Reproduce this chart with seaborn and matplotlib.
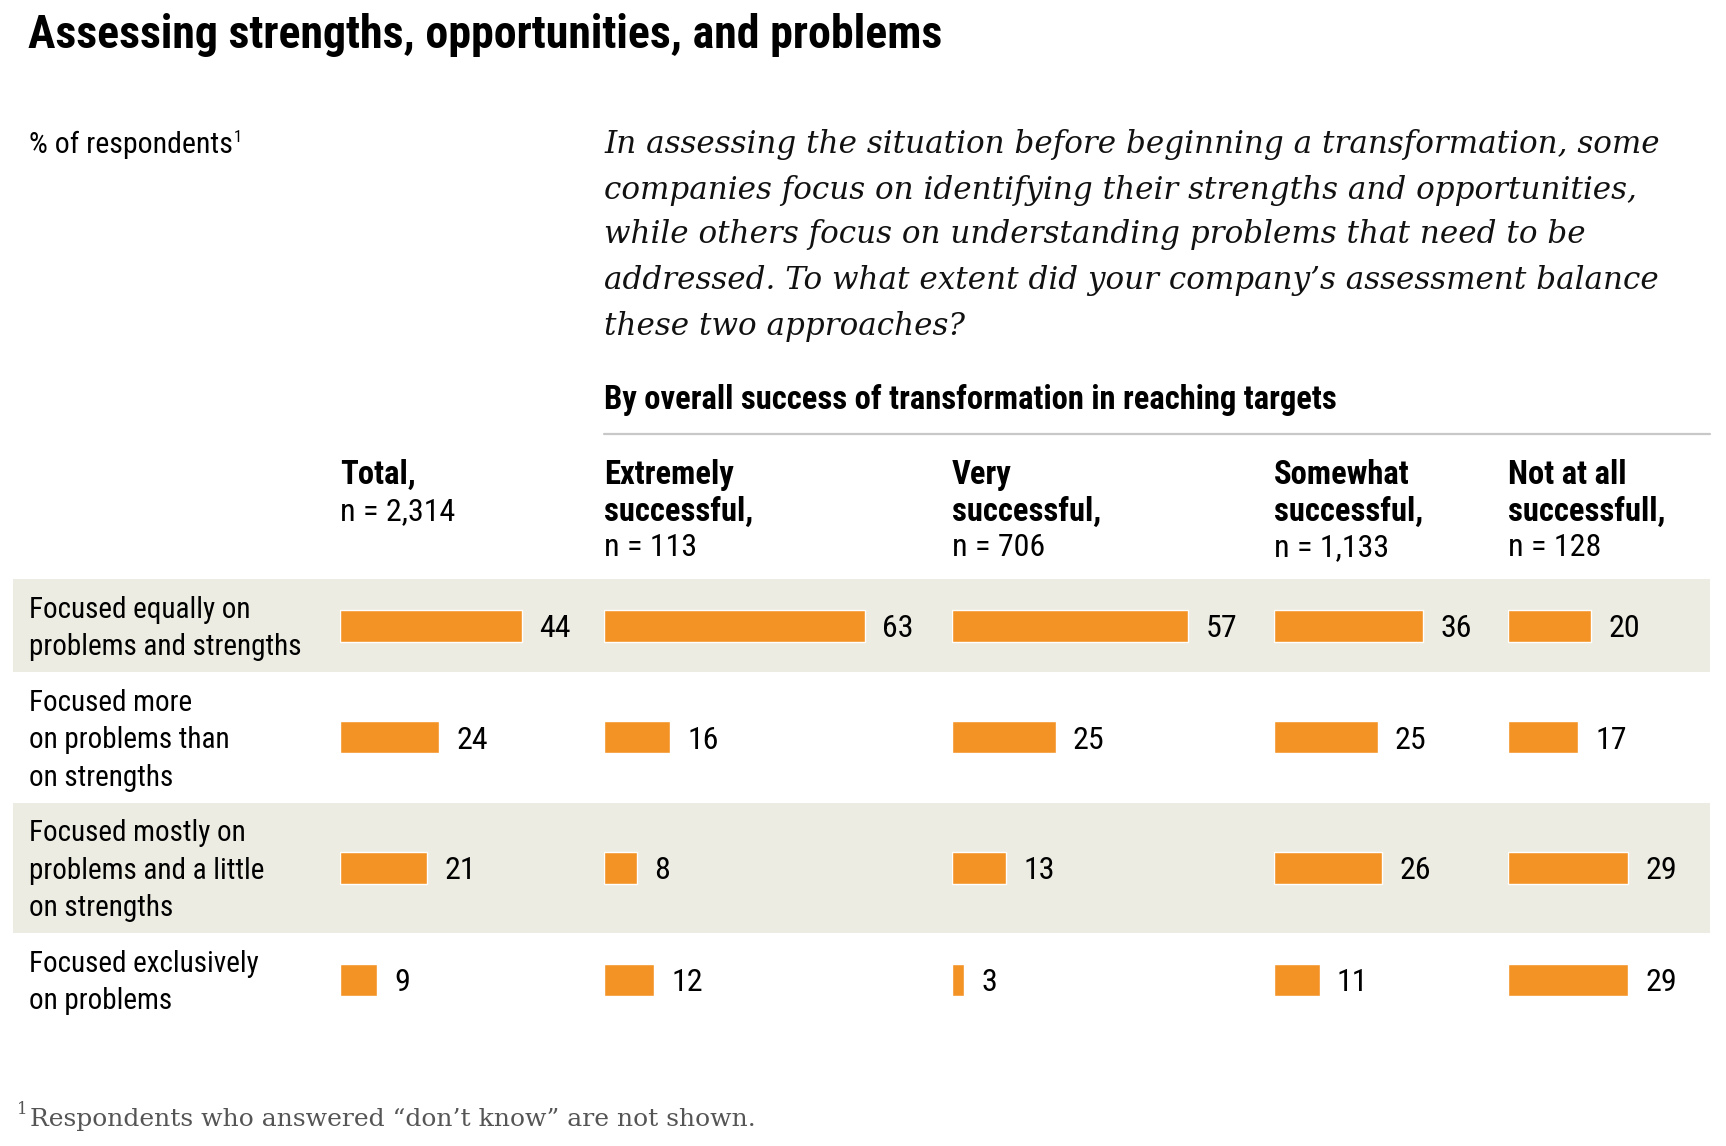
import matplotlib
matplotlib.use("Agg")
import matplotlib.pyplot as plt
import seaborn as sns
import pandas as pd
import numpy as np
from matplotlib import font_manager

# ---------------- data ----------------
row_labels = [
    "Focused equally on\nproblems and strengths",
    "Focused more\non problems than\non strengths",
    "Focused mostly on\nproblems and a little\non strengths",
    "Focused exclusively\non problems",
]
group_headers = [
    ("Total,", "", "n = 2,314"),
    ("Extremely", "successful,", "n = 113"),
    ("Very", "successful,", "n = 706"),
    ("Somewhat", "successful,", "n = 1,133"),
    ("Not at all", "successfull,", "n = 128"),
]
total = [44, 24, 21, 9]
extremely = [63, 16, 8, 12]
very = [57, 25, 13, 3]
somewhat = [36, 25, 26, 11]
not_at_all = [20, 17, 29, 29]
series = [total, extremely, very, somewhat, not_at_all]

title = "Assessing strengths, opportunities, and problems"
unit_label = "% of respondents"
question = [
    "In assessing the situation before beginning a transformation, some",
    "companies focus on identifying their strengths and opportunities,",
    "while others focus on understanding problems that need to be",
    "addressed. To what extent did your company\u2019s assessment balance",
    "these two approaches?",
]
subtitle = "By overall success of transformation in reaching targets"
footnote = "Respondents who answered \u201cdon\u2019t know\u201d are not shown."

# ---------------- style ----------------
sns.set_theme(style="white")
available = {f.name for f in font_manager.fontManager.ttflist}
sans = [f for f in ["Liberation Sans Narrow", "Roboto Condensed", "DejaVu Sans Condensed",
                    "Liberation Sans", "DejaVu Sans"] if f in available]
plt.rcParams["font.family"] = sans
SERIF = ["DejaVu Serif", "Liberation Serif"]

ORANGE = "#F39325"
BAND = "#EDECE2"
LINE = "#C8C8C8"

W, H = 1726, 1146
DPI = 100
fig = plt.figure(figsize=(W / DPI, H / DPI), dpi=DPI)
fig.patch.set_facecolor("white")

bg = fig.add_axes([0, 0, 1, 1])
bg.set_xlim(0, W)
bg.set_ylim(H, 0)
bg.axis("off")

# ---------------- layout ----------------
col_x = [340, 604, 952, 1274, 1508]
col_right = [600, 948, 1270, 1504, 1720]
px_per_unit = 4.14
band_left, band_right = 13, 1710
rows_top = 579
line_h = 37.5
row_pad = 18
bar_h = 32
dy = 3  # visual centre correction for text

n_lines = [len(r.split("\n")) for r in row_labels]
heights = [row_pad + line_h * n for n in n_lines]
tops = rows_top + np.concatenate([[0], np.cumsum(heights)[:-1]])
centers = tops + np.array(heights) / 2

# bands
for i in (0, 2):
    bg.axhspan(tops[i], tops[i] + heights[i],
               xmin=band_left / W, xmax=band_right / W, color=BAND, lw=0, zorder=0)

# title + texts
bg.text(28, 35, title, fontsize=33, fontweight="bold", va="center", ha="left", color="black")
t_unit = bg.text(29, 145, unit_label, fontsize=21.5, va="center", ha="left", color="black")
fig.canvas.draw()
r = fig.canvas.get_renderer()
bb = t_unit.get_window_extent(r)
bg.text(bb.x1 + 1, 137, "1", fontsize=12, va="center", ha="left", color="black")

q_y = [145, 190, 235, 281, 327]
for yy, line in zip(q_y, question):
    bg.text(604, yy, line, fontsize=22.3, fontstyle="italic", family=SERIF,
            va="center", ha="left", color="#111111")

bg.text(604, 400, subtitle, fontsize=23.5, fontweight="bold", va="center", ha="left", color="black")
bg.plot([604, 1710], [434, 434], color=LINE, lw=1.6)

# column headers
hdr_y = [475, 512, 548]
for x, (a, b, c) in zip(col_x, group_headers):
    lines = [(a, "bold"), (b, "bold"), (c, "normal")] if b else [(a, "bold"), (c, "normal")]
    for yy, (txt, wt) in zip(hdr_y, lines):
        fs = 23.5 if wt == "bold" else 23
        bg.text(x, yy, txt, fontsize=fs, fontweight=wt, va="center", ha="left", color="black")

# row labels
for c, lab in zip(centers, row_labels):
    ls = lab.split("\n")
    n = len(ls)
    for k, l in enumerate(ls):
        yy = c + (k - (n - 1) / 2) * line_h + dy
        bg.text(29, yy, l, fontsize=21, va="center", ha="left", color="black")

# footnote
bg.text(17, 1110, "1", fontsize=12, family=SERIF, va="center", ha="left", color="#555555")
bg.text(30, 1119, footnote, fontsize=18, family=SERIF, va="center", ha="left", color="#555555")

# ---------------- bars ----------------
min_gap = np.min(np.diff(centers))
for x0, x1, vals in zip(col_x, col_right, series):
    ax = fig.add_axes([x0 / W, 0, (x1 - x0) / W, 1])
    ax.patch.set_alpha(0)
    df = pd.DataFrame({"value": vals, "ypos": centers})
    sns.barplot(data=df, x="value", y="ypos", orient="h", native_scale=True,
                color=ORANGE, saturation=1, width=bar_h / min_gap, ax=ax, errorbar=None)
    ax.set_xlim(0, (x1 - x0) / px_per_unit)
    ax.set_ylim(H, 0)
    ax.axis("off")
    anns = ax.bar_label(ax.containers[0], labels=[str(v) for v in vals], padding=12.5,
                        fontsize=23, color="black")
    for a in anns:
        a.xyann = (12.5, -dy * 72 / DPI)

fig.savefig("out.png", dpi=DPI, facecolor="white")
